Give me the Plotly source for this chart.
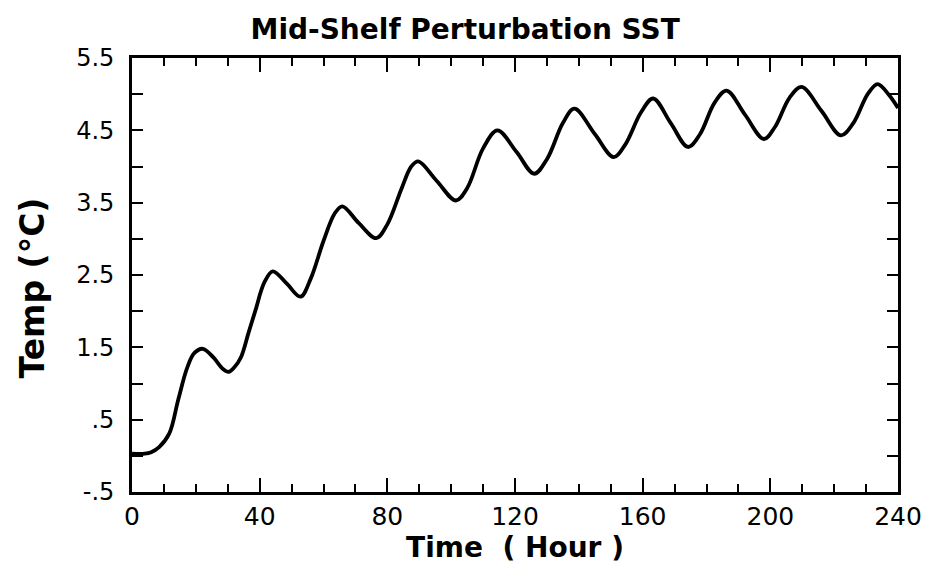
import plotly.graph_objects as go

# Data
time_h = [0, 4, 6, 8.5, 11.7, 14.5, 17.3, 19.5, 22.2, 25.5, 28.5, 30.3, 32, 34.1,
          36.5, 38.6, 41.5, 44.1, 48.5, 52.8, 56, 60, 63.5, 65.9, 71, 76.5, 80,
          84.5, 87.5, 89.7, 95.5, 101.5, 105, 110, 114.5, 120.5, 126, 130, 135,
          138.6, 145, 150.9, 154.5, 159.5, 163.3, 168.8, 174.2, 178, 182.5, 186.3,
          192, 198, 201.5, 206, 209.8, 216, 222.1, 226, 230.5, 233.6, 237, 240]
temp_c = [0.03, 0.03, 0.05, 0.12, 0.31, 0.78, 1.22, 1.42, 1.48, 1.36, 1.20, 1.16, 1.22, 1.36,
          1.70, 2.00, 2.40, 2.55, 2.38, 2.20, 2.45, 2.97, 3.35, 3.45, 3.22, 3.01, 3.20,
          3.70, 4.00, 4.07, 3.80, 3.53, 3.70, 4.25, 4.50, 4.20, 3.90, 4.10, 4.60,
          4.80, 4.45, 4.13, 4.30, 4.75, 4.94, 4.60, 4.27, 4.45, 4.88, 5.05,
          4.72, 4.38, 4.55, 4.95, 5.10, 4.77, 4.43, 4.60, 5.00, 5.14, 5.00, 4.81]

x_ticks = [0, 40, 80, 120, 160, 200, 240]
x_labels = ["0", "40", "80", "120", "160", "200", "240"]
y_ticks = [-0.5, 0.5, 1.5, 2.5, 3.5, 4.5, 5.5]
y_labels = ["-.5", ".5", "1.5", "2.5", "3.5", "4.5", "5.5"]

title_text = "Mid-Shelf Perturbation SST"
x_title = "Time  ( Hour )"
y_title = "Temp (°C)"

FONT = "DejaVu Sans"

fig = go.Figure()
fig.add_trace(go.Scatter(
    x=time_h, y=temp_c, mode="lines",
    line=dict(color="black", width=3.8, shape="spline", smoothing=1.0),
    showlegend=False, hoverinfo="skip",
))
# invisible trace to activate the overlay axes (top/right ticks)
fig.add_trace(go.Scatter(x=[0, 240], y=[-0.5, 5.5], xaxis="x2", yaxis="y2",
                         mode="markers", marker=dict(opacity=0), showlegend=False,
                         hoverinfo="skip"))

axis_common = dict(showgrid=False, zeroline=False, showline=True,
                   linecolor="black", linewidth=2.6, ticks="inside",
                   tickcolor="black", tickwidth=2)

fig.update_layout(
    width=936, height=567,
    margin=dict(l=132, r=38, t=58, b=75),
    paper_bgcolor="white", plot_bgcolor="white",
    title=dict(text=title_text, x=0.497, xanchor="center", y=0.948, yanchor="middle",
               font=dict(family=FONT, size=28, color="black", weight="bold")),
    xaxis=dict(range=[0, 240], tickvals=x_ticks, ticktext=x_labels, ticklen=14,
               minor=dict(dtick=10, tick0=0, ticks="inside", ticklen=8,
                          tickcolor="black", tickwidth=2),
               tickfont=dict(family=FONT, size=25, color="black"),
               title=dict(text=x_title, standoff=0,
                          font=dict(family=FONT, size=28, color="black", weight="bold")),
               **axis_common),
    yaxis=dict(range=[-0.5, 5.5], tickvals=y_ticks, ticktext=y_labels, ticklen=11,
               minor=dict(dtick=0.5, tick0=-0.5, ticks="inside", ticklen=11,
                          tickcolor="black", tickwidth=2),
               tickfont=dict(family=FONT, size=24, color="black"),
               ticklabelstandoff=10,
               **axis_common),
    xaxis2=dict(range=[0, 240], overlaying="x", side="top", anchor="y",
                tickvals=x_ticks, showticklabels=False, ticklen=14,
                minor=dict(dtick=10, tick0=0, ticks="inside", ticklen=8,
                           tickcolor="black", tickwidth=2),
                **axis_common),
    yaxis2=dict(range=[-0.5, 5.5], overlaying="y", side="right", anchor="x",
                tickvals=y_ticks, showticklabels=False, ticklen=11,
                minor=dict(dtick=0.5, tick0=-0.5, ticks="inside", ticklen=11,
                           tickcolor="black", tickwidth=2),
                **axis_common),
    annotations=[dict(text=y_title, textangle=-90, xref="paper", yref="paper",
                      x=-0.13, y=0.47, xanchor="center", yanchor="middle",
                      showarrow=False,
                      font=dict(family=FONT, size=33, color="black", weight="bold"))],
)

fig.write_html("out.html")
